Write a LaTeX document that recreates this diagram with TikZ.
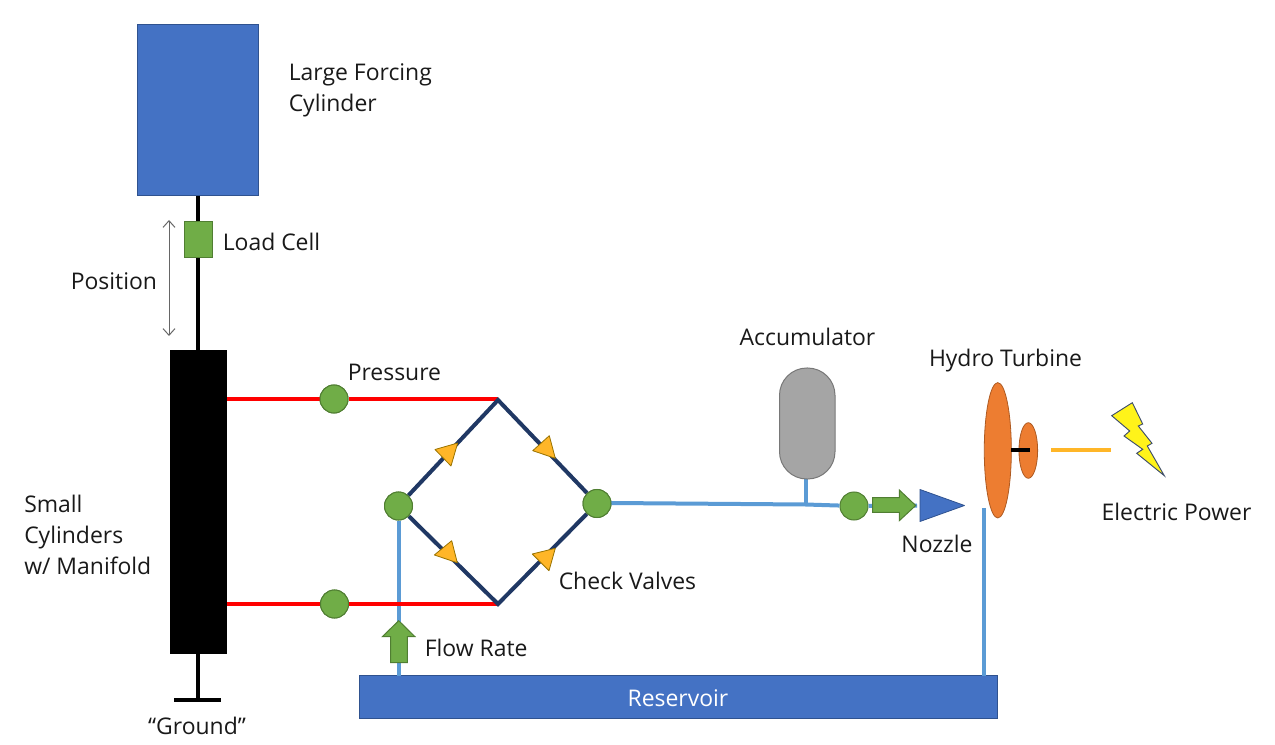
\documentclass[tikz,border=0pt]{standalone}
\usepackage{fontspec}
\setmainfont{Open Sans}
\usetikzlibrary{arrows.meta,shapes.geometric}
\definecolor{cblue}{HTML}{4472C4}
\definecolor{cblueD}{HTML}{2F528F}
\definecolor{cgreen}{HTML}{70AD47}
\definecolor{cgreenD}{HTML}{507E32}
\definecolor{corange}{HTML}{ED7D31}
\definecolor{corangeD}{HTML}{AE5A21}
\definecolor{cgold}{HTML}{FFC000}
\definecolor{cgoldY}{HTML}{FFB628}
\definecolor{cpipe}{HTML}{5B9BD5}
\definecolor{cnavy}{HTML}{203864}
\definecolor{cgray}{HTML}{A5A5A5}
\definecolor{cgrayD}{HTML}{787878}
\tikzset{
  x=0.75pt,y=-0.75pt,
  lbl/.style={font=\fontsize{17.2}{23.2}\selectfont,text=black!90,inner sep=0pt,align=left},
  sensor/.style={circle,draw=cgreenD,fill=cgreen,line width=0.75pt,minimum size=21pt,inner sep=0pt},
  rod/.style={line width=3.2pt,black},
  redline/.style={line width=3pt,draw=red},
  pipe/.style={line width=3pt,cpipe},
  bridge/.style={line width=3pt,cnavy},
  valve/.style={draw=cgold!60!black,fill=cgoldY,line width=0.6pt,line join=round},
  flowarrow/.style={draw=cgreenD,fill=cgreen,line width=0.75pt},
  boxblue/.style={draw=cblueD,fill=cblue,line width=0.75pt,inner sep=0pt},
  turb/.style={ellipse,draw=corangeD,fill=corange,line width=0.6pt,inner sep=0pt}
}
\begin{document}
\begin{tikzpicture}
\useasboundingbox (0,0) rectangle (1275,745);
% coordinates
\coordinate (tjoin) at (498,399);
\coordinate (tapex) at (498,400);
\coordinate (bjoin) at (498,604);
\coordinate (rstart) at (611,503);
\coordinate (acctee) at (805.5,504.5);
\coordinate (reslft) at (398.5,676);
\coordinate (resrgt) at (984,676);
\coordinate (turbdrop) at (984,508);
\coordinate (shaftA) at (1011,449.5);
\coordinate (shaftB) at (1030,449.5);
\coordinate (powA) at (1051,449.5);
\coordinate (powB) at (1111,449.5);
\coordinate (posA) at (169,220);
\coordinate (posB) at (169,336);
\coordinate (gndL) at (174,700);
\coordinate (gndR) at (221,700);
\coordinate (gndM) at (198,700);
\coordinate (pipeEnd) at (917,505.5);
\coordinate (redTL) at (227,399);
\coordinate (redBL) at (227,604);
% main bodies
\node[boxblue,minimum width=91pt,minimum height=128pt] (forcing) at (198,109.75) {};
\node[fill=black,inner sep=0pt,minimum width=42.75pt,minimum height=228pt] (small) at (198,502) {};
\node[boxblue,minimum width=478.5pt,minimum height=32.2pt] (reservoir) at (678.5,697) {};
% rods
\draw[rod] (forcing.south) -- (small.north);
\draw[rod] (small.south) -- (gndM);
\draw[rod] (gndL) -- (gndR);
\node[draw=cgreenD,fill=cgreen,line width=0.75pt,inner sep=0pt,minimum width=21pt,minimum height=27.5pt] (load) at (198,239.5) {};
\draw[{Straight Barb[length=5pt,width=9pt]}-{Straight Barb[length=5pt,width=9pt]},line width=0.75pt,black!60] (posA) -- (posB);
% sensors
\node[sensor] (p1) at (334,399) {};
\node[sensor] (p2) at (334.5,604) {};
\node[sensor] (jl) at (398.5,506) {};
\node[sensor] (jr) at (597,503.5) {};
\node[sensor] (noz) at (854,506) {};
% pipes
\draw[pipe] (jl) -- (reslft);
\draw[pipe] (jr) -- (rstart) -- (acctee) -- (noz);
\draw[pipe] (noz) -- (pipeEnd);
\draw[pipe] (turbdrop) -- (resrgt);
% red lines
\draw[redline] (redTL) -- (p1) -- (tjoin);
\draw[redline] (redBL) -- (p2) -- (bjoin);
\node[sensor] at (p1) {};
\node[sensor] at (p2) {};
% bridge
\draw[bridge,line join=miter] (jl) -- (tapex) -- (jr) -- (bjoin) -- (jl);
\node[sensor] at (jl) {};
\node[sensor] at (jr) {};
% valves
\draw[valve] (435,449.5) -- (457.7,443) -- (451,466) -- cycle;
\draw[valve] (532.7,450.7) -- (549.3,435.7) -- (555.3,458.3) -- cycle;
\draw[valve] (434.3,555) -- (451.7,540.7) -- (457.3,562.7) -- cycle;
\draw[valve] (532.3,554) -- (555.3,548.3) -- (549,570.7) -- cycle;
% accumulator
\draw[pipe] (acctee) -- (805.5,477);
\draw[draw=cgrayD,fill=cgray,line width=0.75pt,rounded corners=20.5pt] (779.5,368) rectangle (835,479);
% flow arrows
\draw[flowarrow] (872.7,497.7) -- (899.3,497.7) -- (899.3,490) -- (915.7,505.5) -- (899.3,520.7) -- (899.3,512.3) -- (872.7,512.3) -- cycle;
\draw[flowarrow] (390.7,662.7) -- (390.7,636.7) -- (382.3,636.7) -- (398.7,620.7) -- (415,636.7) -- (407.3,636.7) -- (407.3,662.7) -- cycle;
% nozzle
\draw[draw=cblueD,fill=cblue,line width=0.6pt,line join=round] (920,489.5) -- (964.5,505.5) -- (920,521.5) -- cycle;
% turbine
\node[turb,minimum width=20.3pt,minimum height=101.5pt] (wheel) at (997.8,450.3) {};
\node[turb,minimum width=14pt,minimum height=41.7pt] (gen) at (1028.3,450.5) {};
\draw[line width=3pt,black] (shaftA) -- (shaftB);
\draw[line width=3pt,cgoldY] (powA) -- (powB);
% bolt
\draw[draw=cnavy!70!gray,fill=yellow!90!white,line width=0.7pt,line join=miter]
 (1111.7,415.7) -- (1132.3,402.7) -- (1142.7,424) -- (1138.3,426) -- (1152,443.3) -- (1147.3,446) -- (1164.3,475.7)
 -- (1136.7,453.3) -- (1142.7,449.3) -- (1124,436) -- (1129.7,431) -- cycle;
% labels
\node[lbl,anchor=north west] (t1) at (288.5,63) {Large Forcing\\Cylinder};
\node[lbl,anchor=west] (t2) at (222.5,242) {Load Cell};
\node[lbl,anchor=west] (t3) at (70.5,281) {Position};
\node[lbl,anchor=west] (t4) at (347.5,372) {Pressure};
\node[lbl,anchor=north west] (t5) at (24,495) {Small\\Cylinders\\w/ Manifold};
\node[lbl,anchor=west] (t6) at (558.5,581) {Check Valves};
\node[lbl,anchor=west] (t7) at (424.5,648) {Flow Rate};
\node[lbl,anchor=center] (t8) at (197,726) {“Ground”};
\node[lbl,anchor=center,text=white] (t9) at (678,698) {Reservoir};
\node[lbl,anchor=center] (t10) at (807.5,337) {Accumulator};
\node[lbl,anchor=center] (t11) at (1005.5,361) {Hydro Turbine};
\node[lbl,anchor=center] (t12) at (937,544) {Nozzle};
\node[lbl,anchor=center] (t13) at (1176.5,512) {Electric Power};
\end{tikzpicture}
\end{document}
